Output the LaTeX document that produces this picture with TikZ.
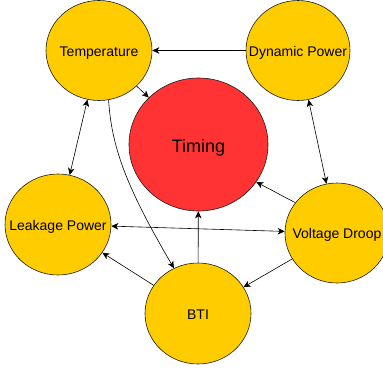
\documentclass[tikz,border=0pt]{standalone}
\usepackage{fontspec}
\setmainfont{Liberation Sans}
\usetikzlibrary{shapes.geometric,arrows.meta}
\definecolor{nodeyellow}{RGB}{255,204,0}
\definecolor{nodered}{RGB}{255,51,51}
\definecolor{edgeline}{RGB}{30,30,30}
\tikzset{
  bubble/.style={ellipse, draw=edgeline, line width=0.6pt, fill=nodeyellow, inner sep=0pt,
    minimum width=106pt, minimum height=100pt, font=\fontsize{14}{16}\selectfont},
  bigbubble/.style={bubble, fill=nodered, minimum width=139pt, minimum height=133pt,
    font=\fontsize{18}{20}\selectfont},
  link/.style={draw=black, line width=0.6pt, -{Stealth[length=7pt,width=6.5pt,inset=2pt]}},
  biglink/.style={draw=black, line width=0.6pt, {Stealth[length=7pt,width=6.5pt,inset=2pt]}-{Stealth[length=7pt,width=6.5pt,inset=2pt]}}
}
\newcommand{\zw}[2][-5.8pt]{\makebox[0pt]{\raisebox{#1}[0pt][0pt]{#2}}}
\begin{document}
\begin{tikzpicture}[x=1pt,y=-1pt]
\useasboundingbox (0,0) rectangle (383,370);
\clip (0,0) rectangle (383,370);
\node[bubble] (temp) at (99,50.5) {\zw{Temperature}};
\node[bubble, minimum width=104pt] (dyn) at (298,50.5) {\zw{Dynamic Power}};
\node[bigbubble] (timing) at (198.5,144.5) {\zw[-7.8pt]{Timing}};
\node[bubble, minimum height=101pt] (leak) at (58,224.5) {\zw{Leakage Power}};
\node[bubble, minimum width=104pt] (vd) at (337,233) {\zw{Voltage Droop}};
\node[bubble, minimum height=101pt] (bti) at (198,313.5) {\zw{BTI}};

\draw[link] (dyn) -- (temp);
\draw[link] (temp) -- (timing);
\draw[biglink] (temp) -- (leak);
\draw[link] (temp.-79) .. controls +(3,50) and +(-45,-77) .. (bti.118);
\draw[link] (bti) -- (timing);
\draw[biglink] (leak) -- (vd);
\draw[link] (bti) -- (leak);
\draw[link] (vd.144) -- (timing.-33);
\draw[link] (vd) -- (bti);
\draw[biglink] (dyn) -- (vd);
\end{tikzpicture}
\end{document}
